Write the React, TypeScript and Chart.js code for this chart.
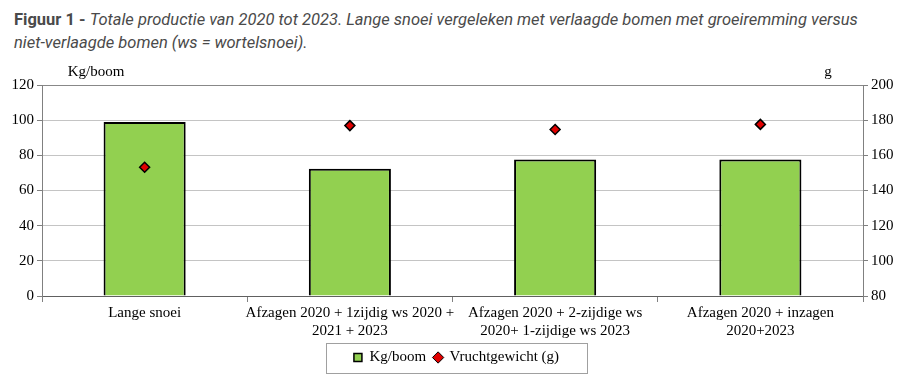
import React, { useEffect, useRef } from "react";
import { Chart, registerables } from "chart.js";

Chart.register(...registerables);

const categories: (string | string[])[] = [
  "Lange snoei",
  ["Afzagen 2020 + 1zijdig ws 2020 +", "2021 + 2023"],
  ["Afzagen 2020 + 2-zijdige ws", "2020+ 1-zijdige ws 2023"],
  ["Afzagen 2020 + inzagen", "2020+2023"],
];
const kgPerTree = [99, 72.3, 77.7, 77.7];
const fruitWeight = [153.2, 176.9, 174.7, 177.6];
const leftAxisTitle = "Kg/boom";
const rightAxisTitle = "g";
const seriesNames = ["Kg/boom", "Vruchtgewicht (g)"];

const SERIF = '"Liberation Serif", "Times New Roman", serif';

const decorPlugin = {
  id: "decor",
  afterDraw(chart: any) {
    const ctx = chart.ctx;
    const ca = chart.chartArea;
    ctx.save();
    ctx.font = "15px " + SERIF;
    ctx.fillStyle = "#000";
    ctx.textAlign = "center";
    ctx.textBaseline = "alphabetic";
    ctx.fillText(leftAxisTitle, ca.left + 54, ca.top - 9);
    ctx.fillText(rightAxisTitle, ca.right - 35, ca.top - 9);
    const lg = chart.legend;
    const boxes = lg && lg.legendHitBoxes;
    if (boxes && boxes.length) {
      let l = Infinity, r = -Infinity, t = Infinity, b = -Infinity;
      for (const h of boxes) {
        l = Math.min(l, h.left);
        r = Math.max(r, h.left + h.width);
        t = Math.min(t, h.top);
        b = Math.max(b, h.top + h.height);
      }
      const cx = (l + r) / 2;
      const cy = (t + b) / 2;
      const w = 261, hgt = 30;
      ctx.strokeStyle = "#a0a0a0";
      ctx.lineWidth = 1;
      ctx.strokeRect(Math.round(cx - w / 2) + 0.5, Math.round(cy - hgt / 2) + 0.5, w, hgt);
    }
    ctx.restore();
  },
};

export default function App() {
  const ref = useRef<HTMLCanvasElement | null>(null);
  useEffect(() => {
    if (!ref.current) return;
    const chart = new Chart(ref.current, {
      type: "bar",
      data: {
        labels: categories,
        datasets: [
          {
            type: "bar",
            label: seriesNames[0],
            data: kgPerTree,
            backgroundColor: "#92d050",
            borderColor: "#000",
            borderWidth: 2,
            barPercentage: 0.4,
            categoryPercentage: 1.0,
            yAxisID: "y",
            order: 2,
          } as any,
          {
            type: "line",
            label: seriesNames[1],
            data: fruitWeight,
            showLine: false,
            pointStyle: "rectRot",
            pointRadius: 5,
            pointBackgroundColor: "#e00000",
            pointBorderColor: "#000",
            pointBorderWidth: 1.5,
            yAxisID: "y2",
            order: 1,
          } as any,
        ],
      },
      options: {
        animation: false,
        responsive: true,
        maintainAspectRatio: false,
        layout: { padding: { top: 29, left: 0, right: 0, bottom: 0 } },
        plugins: {
          tooltip: { enabled: false },
          title: { display: false },
          legend: {
            display: true,
            position: "bottom",
            labels: {
              color: "#000",
              font: { family: SERIF, size: 15 },
              usePointStyle: true,
              boxWidth: 8,
              boxHeight: 8,
              padding: 8,
              generateLabels: () => [
                {
                  text: seriesNames[0],
                  fillStyle: "#92d050",
                  strokeStyle: "#000",
                  lineWidth: 1.5,
                  pointStyle: "rect",
                  hidden: false,
                  datasetIndex: 0,
                },
                {
                  text: seriesNames[1],
                  fillStyle: "#e00000",
                  strokeStyle: "#000",
                  lineWidth: 1,
                  pointStyle: "rectRot",
                  hidden: false,
                  datasetIndex: 1,
                },
              ] as any,
            },
          },
        },
        scales: {
          x: {
            offset: true,
            grid: {
              offset: true,
              drawOnChartArea: false,
              drawTicks: true,
              tickLength: 6,
              color: "#808080",
            },
            border: { display: true, color: "#606060", width: 1 },
            ticks: {
              color: "#000",
              font: { family: SERIF, size: 15, lineHeight: 1.2 },
              maxRotation: 0,
              autoSkip: false,
              padding: 2,
            },
          },
          y: {
            position: "left",
            min: 0,
            max: 120,
            ticks: {
              stepSize: 20,
              color: "#000",
              font: { family: SERIF, size: 15 },
              padding: 3,
            },
            grid: {
              color: (c: any) => (c.tick && c.tick.value === 120 ? "#888" : "#c4c4c4"),
              tickLength: 5,
              tickColor: "#808080",
            },
            border: { display: true, color: "#808080", width: 1 },
            afterFit: (s: any) => {
              s.width = 34;
            },
          },
          y2: {
            position: "right",
            min: 80,
            max: 200,
            ticks: {
              stepSize: 20,
              color: "#000",
              font: { family: SERIF, size: 15 },
              padding: 3,
            },
            grid: {
              drawOnChartArea: false,
              tickLength: 5,
              color: "#808080",
            },
            border: { display: true, color: "#808080", width: 1 },
            afterFit: (s: any) => {
              s.width = 42;
            },
          },
        },
      },
      plugins: [decorPlugin],
    });
    return () => chart.destroy();
  }, []);

  return (
    <div>
      <div
        style={{
          fontFamily: 'Roboto, "Noto Sans", sans-serif',
          fontSize: "16.5px",
          lineHeight: "23px",
          color: "#4a4a4a",
          paddingLeft: "6px",
          height: "48px",
          whiteSpace: "nowrap",
        }}
      >
        <span style={{ fontWeight: "bold" }}>Figuur 1 - </span>
        <span style={{ fontStyle: "italic" }}>
          Totale productie van 2020 tot 2023. Lange snoei vergeleken met verlaagde bomen met groeiremming versus
        </span>
        <br />
        <span style={{ fontStyle: "italic" }}>niet-verlaagde bomen (ws = wortelsnoei).</span>
      </div>
      <div style={{ position: "relative", width: "897px", height: "319px" }}>
        <canvas ref={ref} />
      </div>
    </div>
  );
}
